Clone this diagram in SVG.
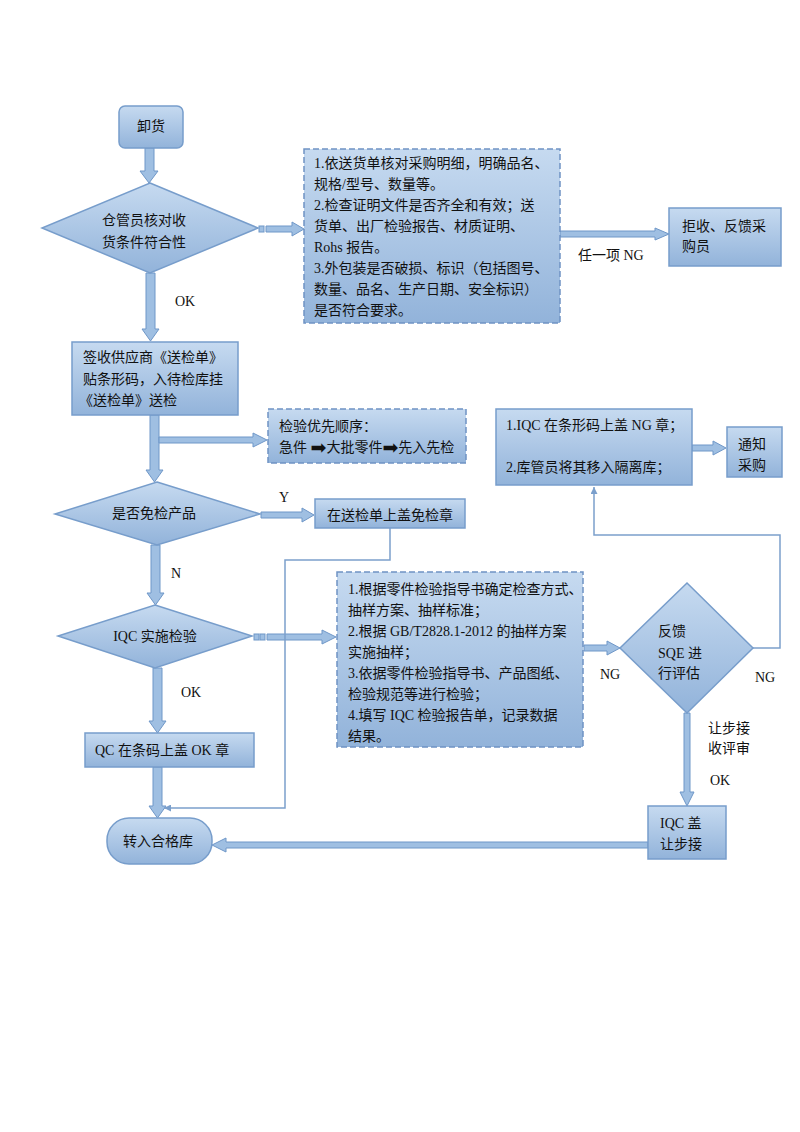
<svg xmlns="http://www.w3.org/2000/svg" width="800" height="1132" viewBox="0 0 800 1132">
<defs>
<linearGradient id="g" x1="0" y1="0" x2="0" y2="1">
<stop offset="0" stop-color="#c6daf0"/>
<stop offset="1" stop-color="#92b3da"/>
</linearGradient>
<marker id="ah" viewBox="0 0 10 10" refX="10" refY="5" markerWidth="7" markerHeight="7" orient="auto" markerUnits="userSpaceOnUse">
<path d="M0,0 L10,5 L0,10 Z" fill="#7a9fcc"/>
</marker>
<style>
.n{fill:url(#g);stroke:#779dcb;stroke-width:1.5}
.d{fill:url(#g);stroke:#6f93c4;stroke-width:1.5;stroke-dasharray:6 3}
.t{font-family:"Liberation Serif","Noto Sans CJK SC",serif;font-size:14px;fill:#111;dominant-baseline:central}
.c{text-anchor:middle}
.l{font-family:"Liberation Serif","Noto Sans CJK SC",serif;font-size:14px;fill:#111;dominant-baseline:central}
.ba{fill:#9fbfe2;stroke:#6f97c8;stroke-width:1}
.thin{fill:none;stroke:#7ca0cc;stroke-width:1.5}
.ar{font-family:"DejaVu Sans",sans-serif;font-size:19px}
</style>
</defs>
<rect width="800" height="1132" fill="#fff"/>

<g id="connectors">
<path class="ba" d="M145,148 L154,148 L154,171 L158,171 L149,183 L140,171 L145,171 Z"/>
<path class="ba" d="M146,273 L155,273 L155,329 L159,329 L150.5,341 L142,329 L146,329 Z"/>
<path class="ba" d="M150,415 L159,415 L159,470 L163,470 L154.5,482 L146,470 L150,470 Z"/>
<path class="ba" d="M151,545 L160,545 L160,593 L164,593 L155.5,605 L147,593 L151,593 Z"/>
<path class="ba" d="M153,668 L162,668 L162,721 L166,721 L157.5,733 L149,721 L153,721 Z"/>
<path class="ba" d="M153,767 L162,767 L162,806 L166,806 L157.5,818 L149,806 L153,806 Z"/>
<path class="ba" d="M684,713 L690,713 L690,792 L694,792 L687,806 L680,792 L684,792 Z"/>
<rect class="ba" x="259" y="226" width="5" height="6"/>
<path class="ba" d="M266,226 L266,232 L292,232 L292,236 L304,229 L292,222 L292,226 Z"/>
<path class="ba" d="M560,231 L560,237 L655,237 L655,240 L669,234 L655,228 L655,231 Z"/>
<path class="ba" d="M159,437 L159,443 L253,443 L253,447 L267,440 L253,433 L253,437 Z"/>
<path class="ba" d="M261,512 L261,518 L302,518 L302,522 L314,515 L302,508 L302,512 Z"/>
<rect class="ba" x="254" y="634" width="5" height="6"/>
<rect class="ba" x="260" y="634" width="5" height="6"/>
<path class="ba" d="M267,634 L267,640 L322,640 L322,644 L336,637 L322,630 L322,634 Z"/>
<path class="ba" d="M584,645 L584,651 L607,651 L607,655 L620,648 L607,641 L607,645 Z"/>
<path class="ba" d="M692,445 L692,451 L713,451 L713,455 L726,448 L713,441 L713,445 Z"/>
<path class="ba" d="M648,842 L648,848 L226,848 L226,852 L212,845 L226,838 L226,842 Z"/>
<polyline class="thin" points="390,528 390,560 285,560 285,808 164,808" marker-end="url(#ah)"/>
<polyline class="thin" points="753,648 780,648 780,535 594,535 594,487" marker-end="url(#ah)"/>
</g>

<g id="n-unload">
<rect class="n" x="119" y="106" width="64" height="42" rx="6"/>
<text class="t c" x="151" y="126">卸货</text>
</g>

<g id="n-check">
<polygon class="n" points="150,183 258,228 150,273 42,228"/>
<text class="t c" x="144" y="220">仓管员核对收</text>
<text class="t c" x="144" y="242">货条件符合性</text>
</g>

<g id="n-items">
<rect class="d" x="304" y="149" width="256" height="174"/>
<text class="t" x="314" y="163">1.依送货单核对采购明细，明确品名、</text>
<text class="t" x="314" y="184">规格/型号、数量等。</text>
<text class="t" x="314" y="205">2.检查证明文件是否齐全和有效；送</text>
<text class="t" x="314" y="226">货单、出厂检验报告、材质证明、</text>
<text class="t" x="314" y="247">Rohs 报告。</text>
<text class="t" x="314" y="268">3.外包装是否破损、标识（包括图号、</text>
<text class="t" x="314" y="289">数量、品名、生产日期、安全标识）</text>
<text class="t" x="314" y="310">是否符合要求。</text>
</g>

<g id="n-reject">
<rect class="n" x="669" y="208" width="112" height="58"/>
<text class="t" x="682" y="226">拒收、反馈采</text>
<text class="t" x="682" y="246">购员</text>
</g>

<g id="labels">
<text class="l" x="578" y="255">任一项 NG</text>
<text class="l" x="175" y="301">OK</text>
<text class="l" x="279" y="497">Y</text>
<text class="l" x="171" y="573">N</text>
<text class="l" x="181" y="692">OK</text>
<text class="l" x="600" y="674">NG</text>
<text class="l" x="755" y="677">NG</text>
<text class="l" x="708" y="728">让步接</text>
<text class="l" x="708" y="748">收评审</text>
<text class="l" x="710" y="780">OK</text>
</g>

<g id="n-sign">
<rect class="n" x="72" y="342" width="166" height="73"/>
<text class="t" x="83" y="357">签收供应商《送检单》</text>
<text class="t" x="83" y="379">贴条形码，入待检库挂</text>
<text class="t" x="79" y="400">《送检单》送检</text>
</g>

<g id="n-priority">
<rect class="d" x="268" y="409" width="198" height="54"/>
<text class="t" x="279" y="426">检验优先顺序：</text>
<text class="t" x="279" y="447">急件 <tspan class="ar">➡</tspan>大批零件<tspan class="ar">➡</tspan>先入先检</text>
</g>

<g id="n-exempt">
<polygon class="n" points="157,482 260,514 157,545 55,514"/>
<text class="t c" x="154" y="513">是否免检产品</text>
</g>

<g id="n-stamp-exempt">
<rect class="n" x="315" y="499" width="150" height="29"/>
<text class="t c" x="390" y="515">在送检单上盖免检章</text>
</g>

<g id="n-iqc">
<polygon class="n" points="155,605 252,636 155,668 58,636"/>
<text class="t c" x="155" y="636">IQC 实施检验</text>
</g>

<g id="n-method">
<rect class="d" x="337" y="572" width="246" height="175"/>
<text class="t" x="348" y="589">1.根据零件检验指导书确定检查方式、</text>
<text class="t" x="348" y="610">抽样方案、抽样标准；</text>
<text class="t" x="348" y="631">2.根据 GB/T2828.1-2012 的抽样方案</text>
<text class="t" x="348" y="652">实施抽样；</text>
<text class="t" x="348" y="673">3.依据零件检验指导书、产品图纸、</text>
<text class="t" x="348" y="694">检验规范等进行检验；</text>
<text class="t" x="348" y="715">4.填写 IQC 检验报告单，记录数据</text>
<text class="t" x="348" y="736">结果。</text>
</g>

<g id="n-sqe">
<polygon class="n" points="687,583 753,648 687,713 620,648"/>
<text class="t" x="658" y="631">反馈</text>
<text class="t" x="658" y="653">SQE 进</text>
<text class="t" x="658" y="673">行评估</text>
</g>

<g id="n-ng">
<rect class="n" x="496" y="409" width="196" height="76"/>
<text class="t" x="506" y="425">1.IQC 在条形码上盖 NG 章；</text>
<text class="t" x="506" y="467">2.库管员将其移入隔离库；</text>
</g>

<g id="n-notify">
<rect class="n" x="727" y="427" width="55" height="50"/>
<text class="t" x="738" y="444">通知</text>
<text class="t" x="738" y="465">采购</text>
</g>

<g id="n-ok">
<rect class="n" x="85" y="733" width="169" height="34"/>
<text class="t" x="95" y="750">QC 在条码上盖 OK 章</text>
</g>

<g id="n-concession">
<rect class="n" x="648" y="806" width="78" height="53"/>
<text class="t" x="660" y="823">IQC 盖</text>
<text class="t" x="660" y="844">让步接</text>
</g>

<g id="n-store">
<rect class="n" x="107" y="818" width="105" height="46" rx="22"/>
<text class="t c" x="158" y="841">转入合格库</text>
</g>
</svg>
